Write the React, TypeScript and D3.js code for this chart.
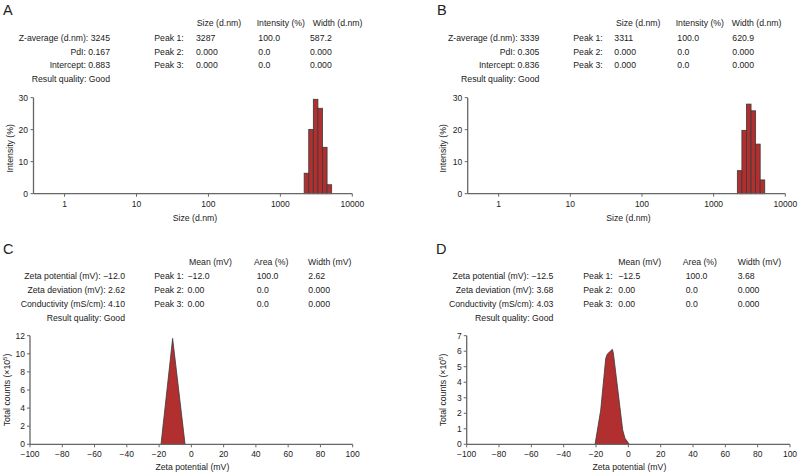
import React from "react";
import * as d3 from "d3";

// ---------- DATA ----------
const sizeBinsA = [2305, 2669, 3091, 3580, 4145, 4801];
const intensityA = [6.4, 20.1, 29.5, 26.7, 14.5, 2.8];
const sizeBinsB = [2305, 2669, 3091, 3580, 4145, 4801];
const intensityB = [7.2, 19.8, 28.0, 25.9, 15.5, 4.3];

const zetaXC = [-18.8, -11.6, -3.9];
const countsC = [0, 11.7, 0];
const zetaXD = [-20.6, -17.1, -14.0, -13.0, -9.9, -9.3, -3.5, -2.1, 0.6];
const countsD = [0, 2.2, 5.54, 5.82, 6.12, 5.9, 0.92, 0.39, 0];

const sizeTicks = [1, 10, 100, 1000, 10000];
const intensityTicks = [0, 10, 20, 30];
const zetaTicks = [-100, -80, -60, -40, -20, 0, 20, 40, 60, 80, 100];
const countTicksC = [0, 2, 4, 6, 8, 10, 12];
const countTicksD = [0, 1, 2, 3, 4, 5, 6, 7];

const summaryA = ["Z-average (d.nm): 3245", "PdI: 0.167", "Intercept: 0.883", "Result quality: Good"];
const summaryB = ["Z-average (d.nm): 3339", "PdI: 0.305", "Intercept: 0.836", "Result quality: Good"];
const summaryC = ["Zeta potential (mV): \u221212.0", "Zeta deviation (mV): 2.62", "Conductivity (mS/cm): 4.10", "Result quality: Good"];
const summaryD = ["Zeta potential (mV): \u221212.5", "Zeta deviation (mV): 3.68", "Conductivity (mS/cm): 4.03", "Result quality: Good"];

const peakLabels = ["Peak 1:", "Peak 2:", "Peak 3:"];
const headersSize = ["Size (d.nm)", "Intensity (%)", "Width (d.nm)"];
const headersZeta = ["Mean (mV)", "Area (%)", "Width (mV)"];
const peaksA = [["3287", "100.0", "587.2"], ["0.000", "0.0", "0.000"], ["0.000", "0.0", "0.000"]];
const peaksB = [["3311", "100.0", "620.9"], ["0.000", "0.0", "0.000"], ["0.000", "0.0", "0.000"]];
const peaksC = [["\u221212.0", "100.0", "2.62"], ["0.00", "0.0", "0.000"], ["0.00", "0.0", "0.000"]];
const peaksD = [["\u221212.5", "100.0", "3.68"], ["0.00", "0.0", "0.000"], ["0.00", "0.0", "0.000"]];

// ---------- STYLE ----------
const FONT = "'Liberation Sans', Arial, Helvetica, sans-serif";
const TXT = "#222";
const AXIS = "#666";
const FILL = "#b12f2f";
const EDGE = "#3a3a3a";
const FS = 8.7;
const TFS = 8.5;
const binHalf = Math.sqrt(1.1583);

type TableLayout = {
  letter: string; letterX: number; letterY: number;
  sumRight: number; peakX: number; colX: number[]; headX: number[];
  rowY: number[]; headY: number; summary: string[]; headers: string[]; peaks: string[][];
};

function Table(p: TableLayout) {
  return (
    <g fontFamily={FONT} fill={TXT}>
      <text x={p.letterX} y={p.letterY} fontSize={14.5}>{p.letter}</text>
      {p.headers.map((h, i) => (
        <text key={"h" + i} x={p.headX[i]} y={p.headY} fontSize={FS}>{h}</text>
      ))}
      {p.summary.map((s, i) => (
        <text key={"s" + i} x={p.sumRight} y={p.rowY[i]} fontSize={FS} textAnchor="end">{s}</text>
      ))}
      {peakLabels.map((l, i) => (
        <text key={"p" + i} x={p.peakX} y={p.rowY[i]} fontSize={FS}>{l}</text>
      ))}
      {p.peaks.map((row, i) =>
        row.map((v, j) => (
          <text key={"v" + i + j} x={p.colX[j]} y={p.rowY[i]} fontSize={FS}>{v}</text>
        ))
      )}
    </g>
  );
}

function SizeChart({ x0, x1, bins, values, ylabX }: { x0: number; x1: number; bins: number[]; values: number[]; ylabX: number }) {
  const x = d3.scaleLog().domain([0.37, 10000]).range([x0, x1]);
  const y = d3.scaleLinear().domain([0, 30]).range([193.7, 97.7]);
  return (
    <g fontFamily={FONT}>
      {bins.map((b, i) => {
        const l = x(b / binHalf), r = x(b * binHalf);
        return <rect key={i} x={l} y={y(values[i])} width={r - l} height={y(0) - y(values[i])} fill={FILL} stroke={EDGE} strokeWidth={0.8} />;
      })}
      <line x1={x0} x2={x1} y1={y(0)} y2={y(0)} stroke={AXIS} strokeWidth={1.3} />
      <line x1={x0} x2={x0} y1={y(0)} y2={y(30)} stroke={AXIS} strokeWidth={1.3} />
      {sizeTicks.map((t) => (
        <g key={t}>
          <line x1={x(t)} x2={x(t)} y1={y(0)} y2={y(0) + 3} stroke={AXIS} strokeWidth={1} />
          <text x={x(t)} y={206.7} fontSize={TFS} textAnchor="middle" fill={TXT}>{t}</text>
        </g>
      ))}
      {intensityTicks.map((t) => (
        <g key={t}>
          <line x1={x0 - 3} x2={x0} y1={y(t)} y2={y(t)} stroke={AXIS} strokeWidth={1} />
          <text x={x0 - 5.5} y={y(t) + 3} fontSize={TFS} textAnchor="end" fill={TXT}>{t}</text>
        </g>
      ))}
      <text x={(x0 + x1) / 2 + 2} y={221} fontSize={FS} textAnchor="middle" fill={TXT}>Size (d.nm)</text>
      <text transform={`translate(${ylabX},148.3) rotate(-90)`} fontSize={FS} textAnchor="middle" fill={TXT}>Intensity (%)</text>
    </g>
  );
}

function ZetaChart({ x0, x1, ymax, ticks, xs, vs, ylabX }: { x0: number; x1: number; ymax: number; ticks: number[]; xs: number[]; vs: number[]; ylabX: number }) {
  const x = d3.scaleLinear().domain([-100, 100]).range([x0, x1]);
  const y = d3.scaleLinear().domain([0, ymax]).range([444.3, 335.7]);
  const pts: [number, number][] = xs.map((v, i) => [v, vs[i]]);
  const area = d3.area<[number, number]>().x((d) => x(d[0])).y0(y(0)).y1((d) => y(d[1]));
  const line = d3.line<[number, number]>().x((d) => x(d[0])).y((d) => y(d[1]));
  return (
    <g fontFamily={FONT}>
      <path d={area(pts) || ""} fill={FILL} />
      <path d={line(pts) || ""} fill="none" stroke={EDGE} strokeWidth={0.8} />
      <line x1={x0} x2={x1} y1={y(0)} y2={y(0)} stroke={AXIS} strokeWidth={1.3} />
      <line x1={x0} x2={x0} y1={y(0)} y2={y(ymax)} stroke={AXIS} strokeWidth={1.3} />
      {zetaTicks.map((t) => (
        <g key={t}>
          <line x1={x(t)} x2={x(t)} y1={y(0)} y2={y(0) + 3} stroke={AXIS} strokeWidth={1} />
          <text x={x(t)} y={457.3} fontSize={TFS} textAnchor="middle" fill={TXT}>{t < 0 ? "\u2212" + Math.abs(t) : t}</text>
        </g>
      ))}
      {ticks.map((t) => (
        <g key={t}>
          <line x1={x0 - 3} x2={x0} y1={y(t)} y2={y(t)} stroke={AXIS} strokeWidth={1} />
          <text x={x0 - 5} y={y(t) + 3} fontSize={TFS} textAnchor="end" fill={TXT}>{t}</text>
        </g>
      ))}
      <text x={(x0 + x1) / 2 + 1} y={469.7} fontSize={FS} textAnchor="middle" fill={TXT}>Zeta potential (mV)</text>
      <text transform={`translate(${ylabX},390) rotate(-90)`} fontSize={FS} textAnchor="middle" fill={TXT}>
        Total counts (×10<tspan fontSize={6} dy={-3}>5</tspan><tspan dy={3}>)</tspan>
      </text>
    </g>
  );
}

export default function App() {
  const rowsTop = [40.7, 54.7, 68.3, 82.3];
  const rowsBot = [279, 293, 307, 320.7];
  return (
    <svg width={798} height={473} style={{ position: "absolute", left: 0, top: 0, background: "#fff" }}>
      <rect width={798} height={473} fill="#fff" />
      <Table letter="A" letterX={3} letterY={15.3} sumRight={110} peakX={154.3} colX={[196, 258.3, 310]} headX={[196.7, 256.7, 312.7]}
        rowY={rowsTop} headY={25.7} summary={summaryA} headers={headersSize} peaks={peaksA} />
      <Table letter="B" letterX={437} letterY={15.3} sumRight={539.3} peakX={573.3} colX={[614.3, 677.3, 732.3]} headX={[616, 675.7, 731.7]}
        rowY={rowsTop} headY={25.7} summary={summaryB} headers={headersSize} peaks={peaksB} />
      <Table letter="C" letterX={3} letterY={253.5} sumRight={125} peakX={154.3} colX={[187.5, 256.7, 308.3]} headX={[189, 254, 308]}
        rowY={rowsBot} headY={264.7} summary={summaryC} headers={headersZeta} peaks={peaksC} />
      <Table letter="D" letterX={436} letterY={253.5} sumRight={553.3} peakX={583.3} colX={[618.3, 685.7, 737.7]} headX={[618.3, 682.7, 737.7]}
        rowY={rowsBot} headY={264.7} summary={summaryD} headers={headersZeta} peaks={peaksD} />
      <SizeChart x0={33.5} x1={352.3} bins={sizeBinsA} values={intensityA} ylabX={13} />
      <SizeChart x0={467.7} x1={785.3} bins={sizeBinsB} values={intensityB} ylabX={445.7} />
      <ZetaChart x0={30} x1={352.7} ymax={12} ticks={countTicksC} xs={zetaXC} vs={countsC} ylabX={9.7} />
      <ZetaChart x0={466.7} x1={790} ymax={7} ticks={countTicksD} xs={zetaXD} vs={countsD} ylabX={446.3} />
    </svg>
  );
}
